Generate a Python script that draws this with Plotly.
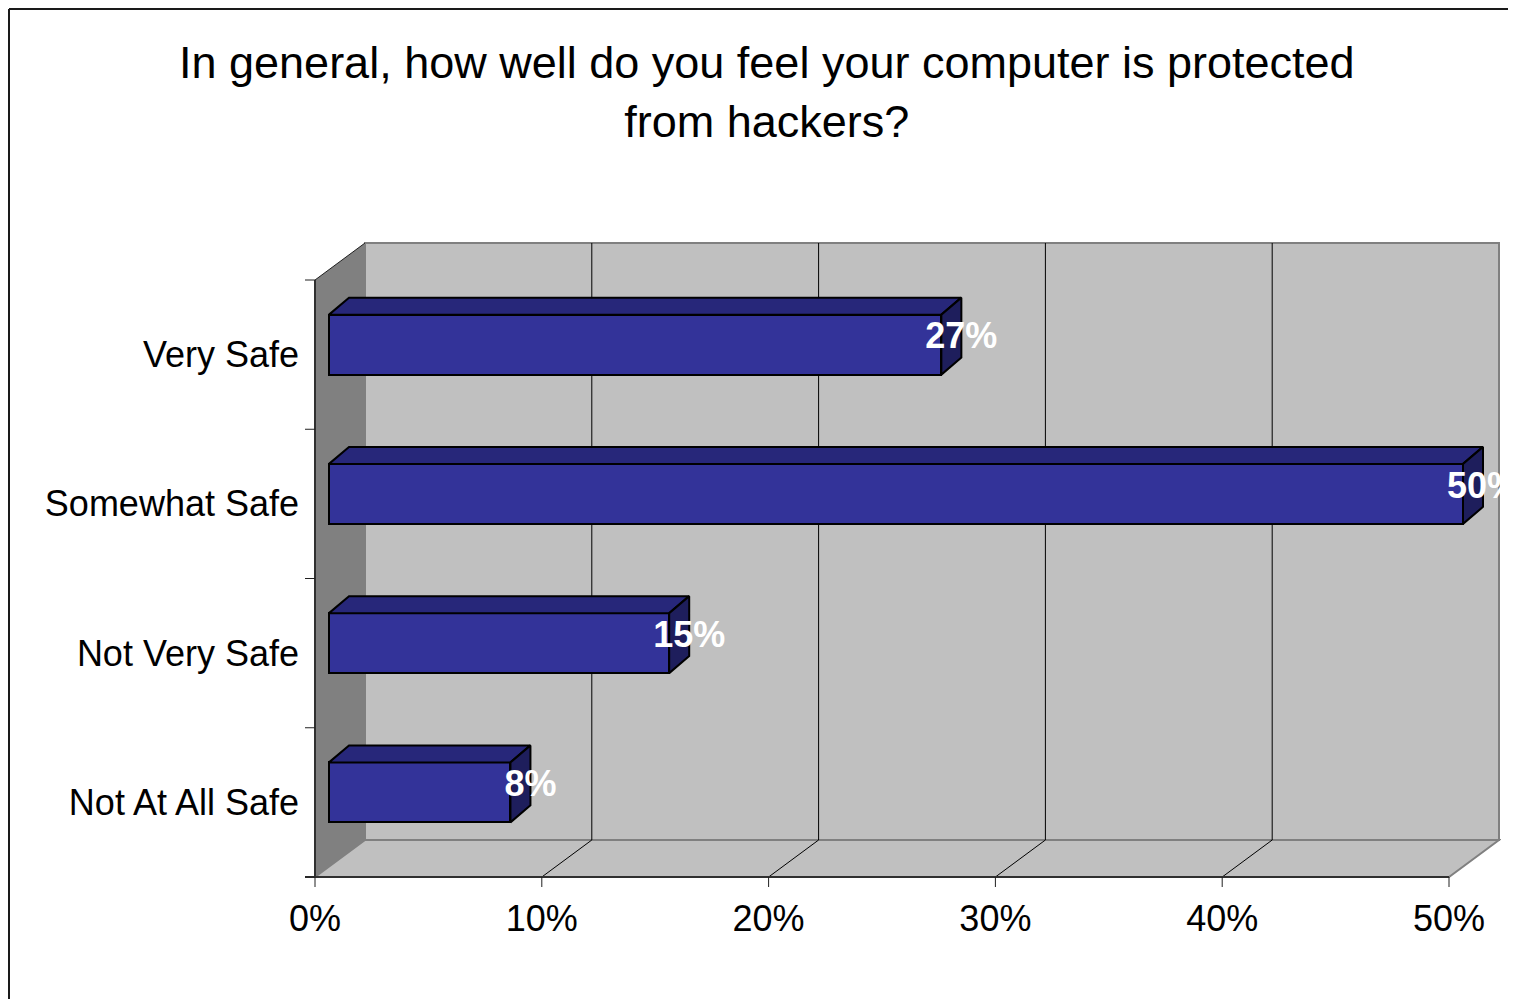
import plotly.graph_objects as go

# ---------------- data ----------------
categories = ["Not At All Safe", "Not Very Safe", "Somewhat Safe", "Very Safe"]
values = [8, 15, 50, 27]
value_labels = ["8%", "15%", "50%", "27%"]
x_tick_vals = [0, 10, 20, 30, 40, 50]
x_tick_text = ["0%", "10%", "20%", "30%", "40%", "50%"]
title_text = "In general, how well do you feel your computer is protected<br>from hackers?"

# ---------------- geometry (pixel -> data scale) ----------------
W, H = 1516, 999
OFF = 8                  # page body margin of the browser
PX_X = 22.68      # px per 1 %
PX_Y = 149.25     # px per category slot
X0_PX, Y0_PX = 315, 877        # pixel of (0%, floor) in the target image
PLOT_L, PLOT_R, PLOT_T, PLOT_B = 300, 1501, 230, 890


def paper_x(px):
    return (px - PLOT_L) / (PLOT_R - PLOT_L)


def paper_y(py):
    return (PLOT_B - py) / (PLOT_B - PLOT_T)


XMAX = 50
NCAT = len(categories)
DX = 50 / PX_X          # wall depth in data units
DY = 37 / PX_Y
FDX = 14 / PX_X          # bar front-face depth offset
FDY = 10 / PX_Y
BDX = 20 / PX_X          # bar depth
BDY = 17 / PX_Y
BAR_H = 60 / PX_Y
TICK_X = 10 / PX_X
TICK_Y = 10 / PX_Y

FONT = "Arial, Liberation Sans, sans-serif"
FRONT = "#333399"
TOP = "#27277A"
SIDE = "#1E1E5C"

fig = go.Figure()

shapes = []
# left wall
shapes.append(dict(type="path", xref="x", yref="y", layer="below",
                   path=f"M 0,0 L 0,{NCAT} L {DX},{NCAT + DY} L {DX},{DY} Z",
                   fillcolor="#808080", line=dict(width=0)))
# back wall
shapes.append(dict(type="rect", xref="x", yref="y", layer="below",
                   x0=DX, x1=XMAX + DX, y0=DY, y1=NCAT + DY,
                   fillcolor="#C0C0C0", line=dict(color="#808080", width=2)))
# floor
shapes.append(dict(type="path", xref="x", yref="y", layer="below",
                   path=f"M 0,0 L {XMAX},0 L {XMAX + DX},{DY} L {DX},{DY} Z",
                   fillcolor="#C0C0C0", line=dict(color="#808080", width=2)))
# left wall top slanted edge
shapes.append(dict(type="line", xref="x", yref="y", layer="below",
                   x0=0, y0=NCAT, x1=DX, y1=NCAT + DY, line=dict(color="#202020", width=1)))
# gridlines on back wall and floor
for v in x_tick_vals[1:-1]:
    shapes.append(dict(type="line", xref="x", yref="y", layer="below",
                       x0=v + DX, x1=v + DX, y0=DY, y1=NCAT + DY,
                       line=dict(color="#000000", width=1)))
    shapes.append(dict(type="line", xref="x", yref="y", layer="below",
                       x0=v, y0=0, x1=v + DX, y1=DY,
                       line=dict(color="#000000", width=1)))
# axis lines
shapes.append(dict(type="line", xref="x", yref="y", layer="below",
                   x0=0, x1=0, y0=0, y1=NCAT, line=dict(color="#303030", width=2)))
shapes.append(dict(type="line", xref="x", yref="y", layer="below",
                   x0=-TICK_X, x1=XMAX, y0=0, y1=0, line=dict(color="#303030", width=2)))
# tick marks
for i in range(NCAT + 1):
    shapes.append(dict(type="line", xref="x", yref="y", layer="below",
                       x0=-TICK_X, x1=0, y0=i, y1=i, line=dict(color="#202020", width=1)))
for v in x_tick_vals:
    shapes.append(dict(type="line", xref="x", yref="y", layer="below",
                       x0=v, x1=v, y0=0, y1=-TICK_Y, line=dict(color="#202020", width=1)))

# page frame (top and left edges), kept just inside the drawable area
FRAME = OFF + 1
shapes.append(dict(type="line", xref="paper", yref="paper",
                   x0=paper_x(FRAME), x1=paper_x(W + 20), y0=paper_y(FRAME), y1=paper_y(FRAME),
                   line=dict(color="#1a1a1a", width=2)))
shapes.append(dict(type="line", xref="paper", yref="paper",
                   x0=paper_x(FRAME), x1=paper_x(FRAME), y0=paper_y(H + 20), y1=paper_y(FRAME),
                   line=dict(color="#1a1a1a", width=2)))

# ---------------- bars ----------------
yc = [i + 0.5 + FDY for i in range(NCAT)]
fig.add_trace(go.Bar(
    orientation="h", y=yc, x=values, base=[FDX] * NCAT, width=BAR_H,
    marker=dict(color=FRONT, line=dict(color="#000000", width=2)),
    hoverinfo="skip", showlegend=False))

top_x, top_y, side_x, side_y = [], [], [], []
for c, v in zip(yc, values):
    yt = c + BAR_H / 2
    yb = c - BAR_H / 2
    xr = FDX + v
    top_x += [FDX, xr, xr + BDX, FDX + BDX, FDX, None]
    top_y += [yt, yt, yt + BDY, yt + BDY, yt, None]
    side_x += [xr, xr, xr + BDX, xr + BDX, xr, None]
    side_y += [yb, yt, yt + BDY, yb + BDY, yb, None]

fig.add_trace(go.Scatter(x=top_x, y=top_y, mode="lines", fill="toself",
                         fillcolor=TOP, line=dict(color="#000000", width=2),
                         hoverinfo="skip", showlegend=False))
fig.add_trace(go.Scatter(x=side_x, y=side_y, mode="lines", fill="toself",
                         fillcolor=SIDE, line=dict(color="#000000", width=2),
                         hoverinfo="skip", showlegend=False))

# value labels
fig.add_trace(go.Scatter(
    x=[FDX + v + BDX for v in values], y=[c + 0.035 for c in yc],
    mode="text", text=value_labels, textposition="middle center",
    textfont=dict(family=FONT, size=36, color="white", weight="bold"),
    cliponaxis=True, hoverinfo="skip", showlegend=False))

fig.add_annotation(text=title_text, xref="paper", yref="paper",
                   x=paper_x(767), y=paper_y(92), xanchor="center", yanchor="middle",
                   showarrow=False, align="center",
                   font=dict(family=FONT, size=45, color="#000000"))

fig.update_layout(
    width=W - OFF, height=H - OFF,
    margin=dict(l=PLOT_L - OFF, r=W - PLOT_R, t=PLOT_T - OFF, b=H - PLOT_B, pad=0),
    paper_bgcolor="white", plot_bgcolor="white",
    shapes=shapes, showlegend=False, bargap=0,
    xaxis=dict(range=[(PLOT_L - X0_PX) / PX_X, (PLOT_R - X0_PX) / PX_X],
               tickvals=x_tick_vals, ticktext=x_tick_text, ticks="",
               showgrid=False, zeroline=False, showline=False,
               tickfont=dict(family=FONT, size=36, color="#000000"),
               ticklabelstandoff=4, fixedrange=True),
    yaxis=dict(range=[(Y0_PX - PLOT_B) / PX_Y, (Y0_PX - PLOT_T) / PX_Y],
               tickvals=[i + 0.5 for i in range(NCAT)], ticktext=categories,
               ticks="", showgrid=False, zeroline=False, showline=False,
               tickfont=dict(family=FONT, size=36, color="#000000"),
               ticklabelstandoff=0, fixedrange=True),
)

fig.write_html("out.html")
